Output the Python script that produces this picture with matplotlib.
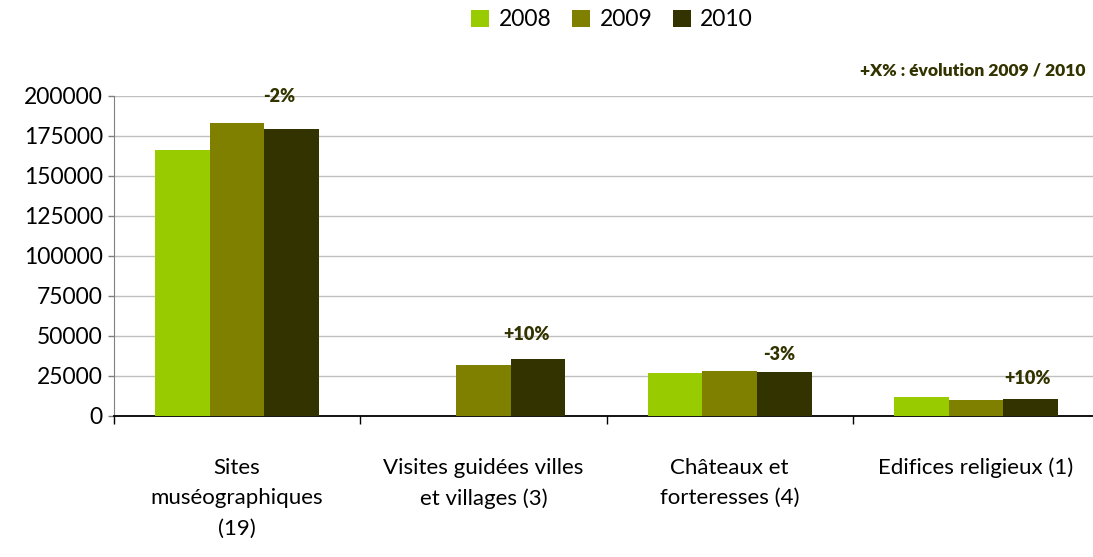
import matplotlib
matplotlib.use("Agg")
import matplotlib.pyplot as plt
import numpy as np

# Données
categories = ["Sites\nmuséographiques\n(19)", "Visites guidées villes\net villages (3)",
              "Châteaux et\nforteresses (4)", "Edifices religieux (1)"]
annees = ["2008", "2009", "2010"]
v2008 = [166000, 0, 27000, 11900]
v2009 = [183000, 32000, 28000, 10000]
v2010 = [179500, 35500, 27200, 10900]
evolutions = ["-2%", "+10%", "-3%", "+10%"]

couleurs = ["#99CC00", "#808000", "#333300"]
texte_fonce = "#333300"

plt.rcParams["font.family"] = ["Lato", "DejaVu Sans"]

fig = plt.figure(figsize=(10.93, 5.57), dpi=100)
ax = fig.add_axes([114 / 1093, 141 / 557, 985 / 1093, 320 / 557])

x = np.arange(len(categories))
w = 0.222
for i, (vals, annee) in enumerate(zip([v2008, v2009, v2010], annees)):
    ax.bar(x + (i - 1) * w, vals, width=w, color=couleurs[i], label=annee, zorder=3)

ax.set_xlim(-0.5, 3.5)
ax.set_ylim(0, 200000)
ax.set_yticks(np.arange(0, 200001, 25000))
ax.yaxis.grid(True, color="#c0c0c0", linewidth=1, zorder=0)
ax.set_axisbelow(True)

ax.set_xticks(x)
ax.set_xticklabels(categories, fontsize=16, linespacing=1.65)
ax.set_xticks(np.arange(-0.5, 4, 1), minor=True)
ax.tick_params(axis="x", which="major", length=0, pad=30)
ax.tick_params(axis="x", which="minor", length=6, width=1, direction="out")
ax.tick_params(axis="y", labelsize=16.5, length=4, width=1, color="#808080", pad=4)

for s in ["top", "right"]:
    ax.spines[s].set_visible(False)
ax.spines["left"].set_color("#808080")
ax.spines["bottom"].set_color("black")
ax.spines["bottom"].set_linewidth(1.3)

# Étiquettes d'évolution 2009/2010
decal = [(-9, 17), (-8, 12), (-4, 7), (-2, 8)]
for i, (txt, val) in enumerate(zip(evolutions, v2010)):
    ax.annotate(txt, xy=(x[i] + w, val), xytext=decal[i], textcoords="offset points",
                ha="center", va="bottom", fontsize=13, fontweight="heavy", color=texte_fonce)

fig.text(1085 / 1093, 1 - 70 / 557, "+X% : évolution 2009 / 2010", ha="right", va="center",
         fontsize=12.5, fontweight="heavy", color=texte_fonce)

fig.legend(loc="center", bbox_to_anchor=(0.56, 1 - 20 / 557), ncol=3, frameon=False,
           fontsize=16.5, handlelength=0.8, handleheight=0.8, handletextpad=0.4,
           columnspacing=0.9)

fig.savefig("out.png", dpi=100)
